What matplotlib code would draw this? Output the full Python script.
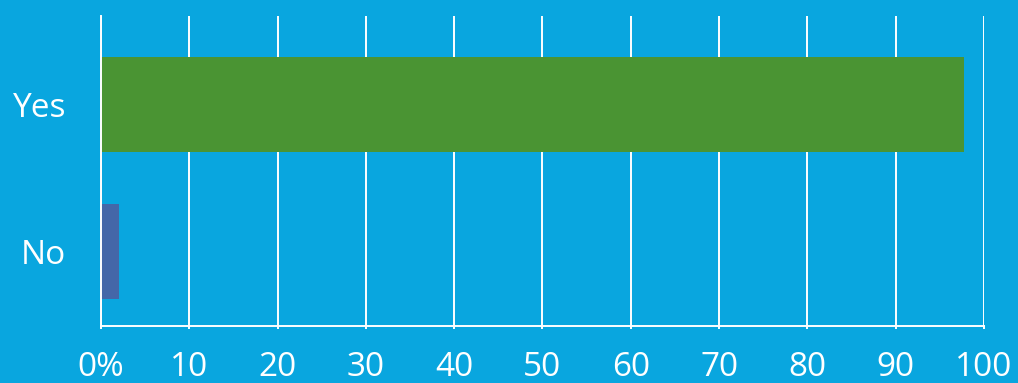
import matplotlib
matplotlib.use('Agg')
import matplotlib.pyplot as plt

plt.rcParams['font.family'] = ['Open Sans', 'DejaVu Sans']

# 调查结果（百分比）
categories = ['No', 'Yes']
values = [2.0, 97.7]
bar_colors = ['#4467a8', '#4a9433']
x_ticks = [0, 10, 20, 30, 40, 50, 60, 70, 80, 90, 100]
x_tick_labels = ['0%', '10', '20', '30', '40', '50', '60', '70', '80', '90', '100']

bg = '#09a6df'

fig = plt.figure(figsize=(10.18, 3.83), dpi=100, facecolor=bg)
ax = fig.add_axes([0.0992, 0.1488, 0.8674, 0.8094], facecolor=bg)

ax.barh(range(len(categories)), values, height=0.646, color=bar_colors, zorder=3)

ax.set_xlim(0, 100)
ax.set_ylim(-0.507, 1.602)
ax.set_xticks(x_ticks)
ax.set_xticklabels(x_tick_labels)
ax.set_yticks(range(len(categories)))
ax.set_yticklabels(categories)

ax.grid(axis='x', color='white', linewidth=1.4, zorder=1)
for side in ['top', 'right']:
    ax.spines[side].set_visible(False)
for side in ['left', 'bottom']:
    ax.spines[side].set_color('white')
    ax.spines[side].set_linewidth(1.4)
    ax.spines[side].set_zorder(4)

ax.tick_params(axis='x', colors='white', labelsize=24, length=2, width=1.4, pad=16)
ax.tick_params(axis='y', colors='white', labelsize=24, length=0, pad=25)

plt.savefig('out.png', dpi=100, facecolor=bg)
